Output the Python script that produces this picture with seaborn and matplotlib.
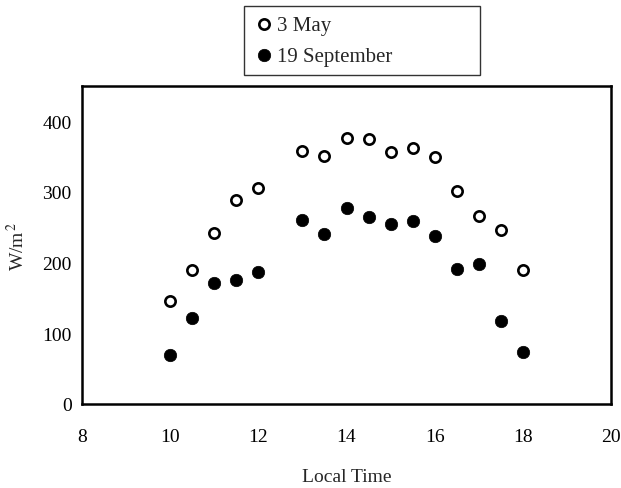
import matplotlib
matplotlib.use("Agg")
import matplotlib.pyplot as plt
import seaborn as sns
import pandas as pd

# Local time of each measurement (hours)
hours = [10, 10.5, 11, 11.5, 12, 13, 13.5, 14, 14.5, 15, 15.5, 16, 16.5, 17, 17.5, 18]
# Irradiance, W/m^2
may_3 = [146, 190, 242, 288, 306, 358, 351, 377, 375, 357, 362, 350, 302, 266, 246, 190]
sep_19 = [69, 121, 171, 175, 187, 261, 240, 278, 264, 255, 259, 238, 191, 198, 118, 73]

x_ticks = [8, 10, 12, 14, 16, 18, 20]
y_ticks = [0, 100, 200, 300, 400]

sns.set_theme(style="white")
plt.rcParams["font.family"] = ["Liberation Serif", "DejaVu Serif"]
plt.rcParams["mathtext.fontset"] = "stix"

df_may = pd.DataFrame({"time": hours, "irr": may_3})
df_sep = pd.DataFrame({"time": hours, "irr": sep_19})

fig = plt.figure(figsize=(6.21, 4.89), dpi=100)
ax = fig.add_axes([82 / 621, 1 - 405 / 489, (611 - 82) / 621, (405 - 87) / 489])

sns.scatterplot(data=df_may, x="time", y="irr", ax=ax, marker="o", s=55,
                facecolor="white", edgecolor="black", linewidth=1.9,
                label="3 May", zorder=3)
sns.scatterplot(data=df_sep, x="time", y="irr", ax=ax, marker="o", s=80,
                color="black", edgecolor="black", linewidth=0.5,
                label="19 September", zorder=3)

ax.set_xlim(8, 20)
ax.set_ylim(0, 450)
ax.set_xticks(x_ticks)
ax.set_yticks(y_ticks)
ax.tick_params(axis="both", direction="inout", length=9, width=1.0,
               labelsize=14, colors="black")
ax.tick_params(axis="x", pad=13)
ax.tick_params(axis="y", pad=3)
for side in ["left", "right", "top", "bottom"]:
    ax.spines[side].set_visible(True)
    ax.spines[side].set_color("black")
    ax.spines[side].set_linewidth(1.8)

ax.set_xlabel("Local Time", fontsize=14, labelpad=16)
ax.set_ylabel("W/m$^{\\,2}$", fontsize=14, labelpad=10)

handles, labels = ax.get_legend_handles_labels()
ax.get_legend().remove()
leg = fig.legend(handles, labels, loc="lower left", mode="expand",
                 bbox_to_anchor=(244 / 621, 1 - 76 / 489, 236 / 621, 68 / 489),
                 frameon=True, fancybox=False, fontsize=15,
                 handletextpad=0.15, labelspacing=0.55, borderpad=0.45,
                 handlelength=1.0, borderaxespad=0)
leg.get_frame().set_edgecolor("black")
leg.get_frame().set_linewidth(1.0)

fig.savefig("out.png", dpi=100, facecolor="white")
